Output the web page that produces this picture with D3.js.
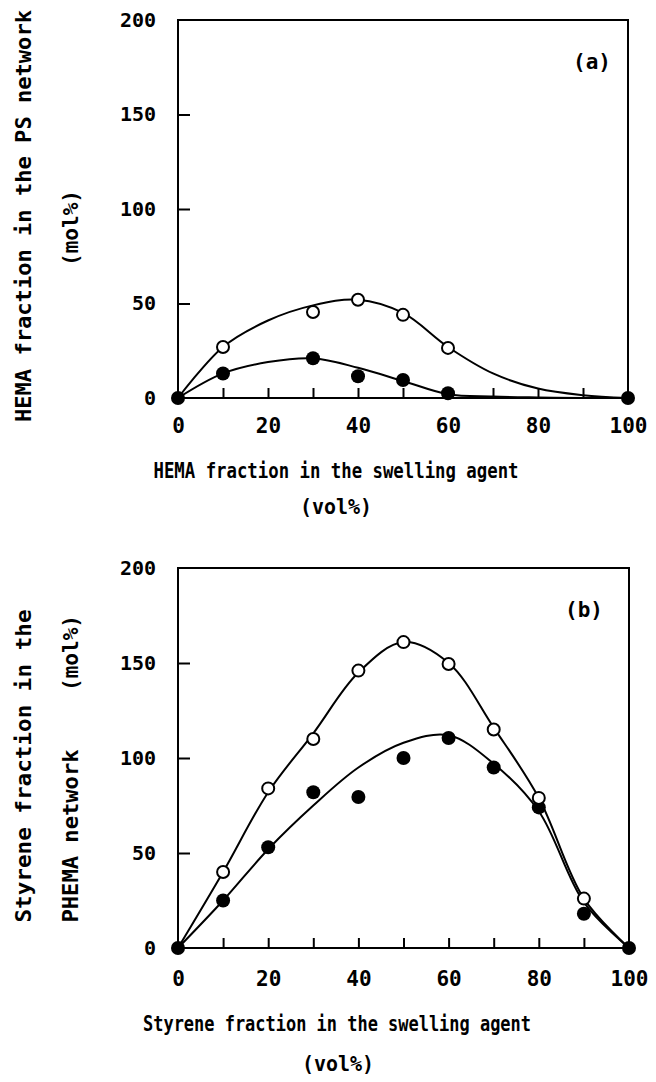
<!DOCTYPE html>
<html>
<head>
<meta charset="utf-8">
<script src="https://cdn.jsdelivr.net/npm/d3@7"></script>
<style>
    body { margin: 0; background: #fff; }
    svg { display: block; }
    .frame { fill: none; stroke: #000; stroke-width: 2; }
    .fit { fill: none; stroke: #000; stroke-width: 2; }
    text { font-family: "DejaVu Sans Mono", monospace; font-weight: bold; fill: #000; }
    .axis path, .axis line { stroke: #000; stroke-width: 2; }
</style>
</head>
<body>
<svg id="chart" width="656" height="1082"></svg>
<script>
// Panel (a): HEMA in PS network
const hemaOpenX = [10, 30, 40, 50, 60];
const hemaOpenY = [27, 45.5, 52, 44, 26.5];
const hemaFilledX = [0, 10, 30, 40, 50, 60, 100];
const hemaFilledY = [0, 13, 21, 11.5, 9.5, 2.5, 0];
const hemaFitX = [0, 10, 20, 30, 40, 50, 60, 70, 80, 90, 100];
const hemaOpenFitY = [0, 27, 41, 49, 52, 45, 27, 13, 5, 1.5, 0];
const hemaFilledFitY = [0, 13, 19, 21, 16, 9, 2, 0.8, 0.3, 0, 0];

// Panel (b): Styrene in PHEMA network
const styOpenX = [10, 20, 30, 40, 50, 60, 70, 80, 90];
const styOpenY = [40, 84, 110, 146, 161, 149.5, 115, 79, 26];
const styFilledX = [0, 10, 20, 30, 40, 50, 60, 70, 80, 90, 100];
const styFilledY = [0, 25, 53, 82, 79.5, 100, 110.5, 95, 74, 18, 0];
const styFitX = [0, 10, 20, 30, 40, 50, 60, 70, 80, 90, 100];
const styOpenFitY = [0, 40, 82, 113, 145, 161, 150, 116, 79, 26, 0];
const styFilledFitY = [0, 25, 52, 75, 95, 108, 112, 97, 72, 24, 0];

const xLabelTicks = [0, 20, 40, 60, 80, 100];
const xMarkTicks = [10, 20, 30, 40, 50, 60, 70, 80, 90];
const yLabelTicks = [0, 50, 100, 150, 200];
const yMarkTicks = [50, 100, 150];

const zip = (xs, ys) => xs.map((x, i) => ({ x: x, y: ys[i] }));

const svg = d3.select('#chart');

function drawPanel(cfg) {
    const x = d3.scaleLinear().domain([0, 100]).range([cfg.left, cfg.right]);
    const y = d3.scaleLinear().domain([0, 200]).range([cfg.bottom, cfg.top]);
    const g = svg.append('g');

    // frame
    g.append('rect')
        .attr('class', 'frame')
        .attr('x', cfg.left).attr('y', cfg.top)
        .attr('width', cfg.right - cfg.left)
        .attr('height', cfg.bottom - cfg.top);

    // inward tick marks
    g.append('g').attr('class', 'axis')
        .attr('transform', `translate(0,${cfg.bottom})`)
        .call(d3.axisBottom(x).tickValues(xMarkTicks).tickSize(-10).tickFormat(''))
        .call(a => a.select('.domain').remove());
    g.append('g').attr('class', 'axis')
        .attr('transform', `translate(${cfg.left},0)`)
        .call(d3.axisLeft(y).tickValues(yMarkTicks).tickSize(-12).tickFormat(''))
        .call(a => a.select('.domain').remove());

    // tick labels
    const xl = g.append('g')
        .attr('transform', `translate(0,${cfg.bottom})`)
        .call(d3.axisBottom(x).tickValues(xLabelTicks).tickSize(0).tickPadding(cfg.xPad));
    xl.select('.domain').remove();
    xl.selectAll('text').style('font-size', '21px').attr('font-family', null);

    const yl = g.append('g')
        .attr('transform', `translate(${cfg.left},0)`)
        .call(d3.axisLeft(y).tickValues(yLabelTicks).tickSize(0).tickPadding(22));
    yl.select('.domain').remove();
    yl.selectAll('text').style('font-size', '20px').attr('font-family', null);

    // fitted curves
    const line = d3.line()
        .x(d => x(d.x))
        .y(d => y(d.y))
        .curve(d3.curveCatmullRom.alpha(0.5));
    cfg.fits.forEach(f => {
        g.append('path').attr('class', 'fit').datum(f).attr('d', line);
    });

    // filled markers
    g.selectAll('.filled').data(cfg.filled).enter()
        .append('circle')
        .attr('cx', d => x(d.x)).attr('cy', d => y(d.y))
        .attr('r', 7).attr('fill', '#000');

    // open markers
    g.selectAll('.open').data(cfg.open).enter()
        .append('circle')
        .attr('cx', d => x(d.x)).attr('cy', d => y(d.y))
        .attr('r', 6).attr('fill', '#fff')
        .attr('stroke', '#000').attr('stroke-width', 2);

    // panel tag
    g.append('text')
        .attr('x', cfg.tag[1]).attr('y', cfg.tag[2])
        .attr('text-anchor', 'middle')
        .style('font-size', '21px')
        .text(cfg.tag[0]);

    // x title
    cfg.xTitle.forEach(t => {
        const el = g.append('text')
            .attr('x', t.cx).attr('y', t.y)
            .attr('text-anchor', 'middle')
            .style('font-size', '22px')
            .text(t.text);
        if (t.len) el.attr('textLength', t.len).attr('lengthAdjust', 'spacingAndGlyphs');
    });

    // y title (rotated)
    cfg.yTitle.forEach(t => {
        const el = g.append('text')
            .attr('transform', `translate(${t.x},${t.cy}) rotate(-90)`)
            .attr('text-anchor', 'middle')
            .style('font-size', '22px')
            .text(t.text);
        if (t.len) el.attr('textLength', t.len).attr('lengthAdjust', 'spacingAndGlyphs');
    });
}

drawPanel({
    left: 178, right: 628, top: 20, bottom: 398, xPad: 20,
    open: zip(hemaOpenX, hemaOpenY),
    filled: zip(hemaFilledX, hemaFilledY),
    fits: [zip(hemaFitX, hemaOpenFitY), zip(hemaFitX, hemaFilledFitY)],
    tag: ['(a)', 592, 69],
    xTitle: [
        { text: 'HEMA fraction in the swelling agent', cx: 336, y: 478, len: 365 },
        { text: '(vol%)', cx: 336, y: 514, len: 72 }
    ],
    yTitle: [
        { text: 'HEMA fraction in the PS network', x: 31, cy: 216, len: 412 },
        { text: '(mol%)', x: 78, cy: 228, len: 76 }
    ]
});

drawPanel({
    left: 178, right: 629, top: 568, bottom: 948, xPad: 23,
    open: zip(styOpenX, styOpenY),
    filled: zip(styFilledX, styFilledY),
    fits: [zip(styFitX, styOpenFitY), zip(styFitX, styFilledFitY)],
    tag: ['(b)', 584, 617],
    xTitle: [
        { text: 'Styrene fraction in the swelling agent', cx: 337, y: 1031, len: 388 },
        { text: '(vol%)', cx: 338, y: 1071, len: 72 }
    ],
    yTitle: [
        { text: 'Styrene fraction in the', x: 31, cy: 766, len: 313 },
        { text: 'PHEMA network', x: 78, cy: 836, len: 173 },
        { text: '(mol%)', x: 78, cy: 653, len: 76 }
    ]
});
</script>
</body>
</html>
